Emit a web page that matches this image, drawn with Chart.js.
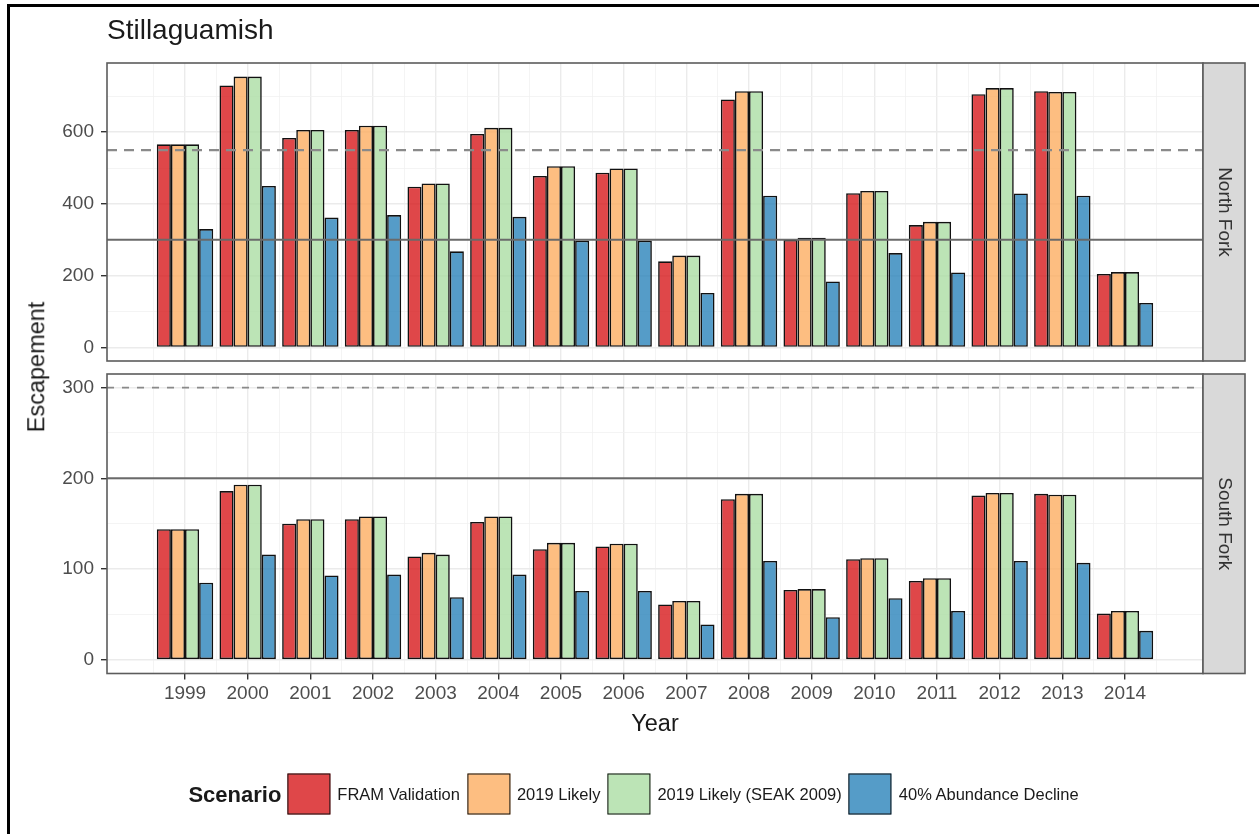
<!DOCTYPE html>
<html>
<head>
<meta charset="utf-8">
<title>Stillaguamish escapement</title>
<script src="https://cdn.jsdelivr.net/npm/chart.js@4.4.1/dist/chart.umd.min.js"></script>
<style>
  html, body { margin: 0; padding: 0; background: #fff; }
  #page { position: relative; width: 1259px; height: 834px; overflow: hidden; background: #fff;
          font-family: 'Liberation Sans', Arial, sans-serif; }
  #frame { position: absolute; left: 7px; top: 4px; right: -20px; bottom: -20px;
           border-left: 3px solid #000; border-top: 3px solid #000; }
  canvas { position: absolute; left: 0; top: 0; }
  .txt { position: absolute; white-space: nowrap; line-height: 1; color: #1a1a1a; }
  #title { left: 107px; top: 16px; font-size: 28px; }
  #ylab { left: 37px; top: 367px; font-size: 23.5px; transform: translate(-50%, -50%) rotate(-90deg); }
  #xlab { left: 655px; top: 724px; font-size: 23.5px; transform: translate(-50%, -50%); }
  #legend { position: absolute; left: 637px; top: 794px; transform: translate(-50%, -50%);
            display: flex; align-items: center; white-space: nowrap; }
  #legend .ttl { font-weight: bold; font-size: 22px; color: #1a1a1a; margin-right: 6px; }
  #legend .key { width: 43px; height: 41px; box-sizing: border-box; border: 1.6px solid #111; margin-right: 7px; }
  #legend .lab { font-size: 16.5px; color: #1a1a1a; margin-right: 7px; }
</style>
</head>
<body>
<div id="page">
  <div id="frame"></div>
  <canvas id="north" width="1259" height="834"></canvas>
  <canvas id="south" width="1259" height="834"></canvas>
  <div id="title" class="txt">Stillaguamish</div>
  <div id="ylab" class="txt">Escapement</div>
  <div id="xlab" class="txt">Year</div>
  <div id="legend"></div>
</div>
<script>
// Return years and scenarios
const years = [1999, 2000, 2001, 2002, 2003, 2004, 2005, 2006, 2007, 2008, 2009, 2010, 2011, 2012, 2013, 2014];
const scenarios = ['FRAM Validation', '2019 Likely', '2019 Likely (SEAK 2009)', '40% Abundance Decline'];

// North Fork escapement by scenario
const northFram    = [566, 730, 584, 606, 448, 595, 478, 487, 240, 691, 300, 430, 341, 706, 714, 205];
const northLikely  = [566, 755, 606, 618, 457, 612, 505, 499, 256, 714, 306, 436, 350, 723, 712, 210];
const northSeak    = [566, 755, 606, 618, 457, 612, 505, 499, 256, 714, 306, 436, 350, 723, 712, 210];
const northDecline = [330, 450, 362, 369, 268, 364, 298, 298, 152, 423, 184, 263, 209, 429, 423, 124];

// South Fork escapement by scenario
const southFram    = [144, 186, 150, 155, 114, 152, 122, 125, 61, 177, 77, 111, 87, 181, 183, 51];
const southLikely  = [144, 193, 155, 158, 118, 158, 129, 128, 65, 183, 78, 112, 90, 184, 182, 54];
const southSeak    = [144, 193, 155, 158, 116, 158, 129, 128, 65, 183, 78, 112, 90, 184, 182, 54];
const southDecline = [85, 116, 93, 94, 69, 94, 76, 76, 39, 109, 47, 68, 54, 109, 107, 32];

// Reference levels: [dashed, solid]
const northLevels = [550, 300];
const southLevels = [300, 200];

// Labelled y ticks
const northTicks = [0, 200, 400, 600];
const southTicks = [0, 100, 200, 300];

// Styling
const fills = ['rgba(215,25,28,0.8)', 'rgba(253,174,97,0.8)', 'rgba(171,221,164,0.8)', 'rgba(43,131,186,0.8)'];
const FONT = "'Liberation Sans', Arial, sans-serif";
Chart.defaults.font.family = FONT;

// x range: bars of width 0.9 plus 5% expansion
const xLo = years[0] - 0.45, xHi = years[years.length - 1] + 0.45;
const xPad = 0.05 * (xHi - xLo);
const xMin = xLo - xPad, xMax = xHi + xPad;

// Year ticks plus half-year minor grid ticks
function xTickList() {
  const t = [];
  years.forEach(y => { t.push({ value: y - 0.5, minor: true }); t.push({ value: y }); });
  t.push({ value: years[years.length - 1] + 0.5, minor: true });
  return t;
}

function yTickList(majors, lo, hi) {
  const step = majors[1] - majors[0];
  const t = [];
  for (let v = majors[0] - step / 2; v <= hi; v += step / 2) {
    if (v < lo) continue;
    t.push({ value: v, minor: !majors.includes(v) });
  }
  return t;
}

// Panel border and the facet strip on its right
const panelFrame = {
  id: 'panelFrame',
  afterDraw(chart, args, opts) {
    const { ctx, chartArea: a } = chart;
    const h = a.bottom - a.top;
    ctx.save();
    ctx.lineWidth = 1.6;
    ctx.strokeStyle = '#5c5c5c';
    ctx.strokeRect(a.left, a.top, a.right - a.left, h);
    ctx.fillStyle = '#D9D9D9';
    ctx.fillRect(a.right, a.top, 42, h);
    ctx.strokeRect(a.right, a.top, 42, h);
    ctx.translate(a.right + 21, a.top + h / 2);
    ctx.rotate(Math.PI / 2);
    ctx.fillStyle = '#333';
    ctx.font = '19px ' + FONT;
    ctx.textAlign = 'center';
    ctx.textBaseline = 'middle';
    ctx.fillText(opts.label, 0, 0);
    ctx.restore();
  }
};

function makePanel(id, series, levels, majors, label, pad, showX) {
  const all = series.flat().concat(levels);
  const dMax = Math.max(...all);
  const yMin = -0.05 * dMax, yMax = dMax * 1.05;
  const yTicks = yTickList(majors, yMin, yMax);

  // The bar ruler measures the half-year tick spacing, so a group
  // 0.9 years wide is 1.8 of that spacing.
  const bars = series.map((vals, i) => ({
    type: 'bar',
    label: scenarios[i],
    data: years.map((y, j) => ({ x: y, y: vals[j] })),
    backgroundColor: fills[i],
    borderColor: '#111',
    borderWidth: 1.6,
    borderSkipped: false,
    inflateAmount: 0,
    categoryPercentage: 1.8,
    barPercentage: 1.0,
    order: 1
  }));
  const lines = levels.map((v, i) => ({
    type: 'line',
    data: [{ x: xMin, y: v }, { x: xMax, y: v }],
    borderColor: i === 0 ? '#8a8a8a' : '#6a6a6a',
    borderWidth: i === 0 ? (showX ? 1.6 : 2.2) : 2,
    borderDash: i === 0 ? (showX ? [7, 8] : [10, 7]) : [],
    pointRadius: 0,
    fill: false,
    order: 0
  }));

  const minorOr = (ctx, a, b) => (ctx.tick && ctx.tick.minor) ? a : b;

  return new Chart(document.getElementById(id), {
    type: 'bar',
    data: { datasets: bars.concat(lines) },
    plugins: [panelFrame],
    options: {
      responsive: false,
      animation: false,
      layout: { padding: pad },
      plugins: { legend: { display: false }, tooltip: { enabled: false }, panelFrame: { label } },
      scales: {
        x: {
          type: 'linear', min: xMin, max: xMax, offset: false, bounds: 'data',
          afterBuildTicks: s => { s.ticks = xTickList(); },
          afterFit: s => { s.height = showX ? 40 : 0; },
          border: { display: false },
          grid: {
            offset: false,
            drawTicks: showX,
            tickLength: 6,
            color: ctx => minorOr(ctx, '#F1F1F1', '#EBEBEB'),
            lineWidth: ctx => minorOr(ctx, 0.8, 1.4),
            tickColor: ctx => minorOr(ctx, 'rgba(0,0,0,0)', '#333'),
            tickWidth: 1.4
          },
          ticks: {
            display: showX, autoSkip: false, maxRotation: 0, padding: 3,
            color: '#4D4D4D', font: { size: 19 },
            callback: v => Number.isInteger(v) ? String(v) : ''
          }
        },
        y: {
          type: 'linear', min: yMin, max: yMax, bounds: 'data',
          afterBuildTicks: s => { s.ticks = yTicks.map(t => ({ value: t.value, minor: t.minor })); },
          afterFit: s => { s.width = 107; },
          border: { display: false },
          grid: {
            drawTicks: true,
            tickLength: 6,
            color: ctx => minorOr(ctx, '#F1F1F1', '#EBEBEB'),
            lineWidth: ctx => minorOr(ctx, 0.8, 1.4),
            tickColor: ctx => minorOr(ctx, 'rgba(0,0,0,0)', '#333'),
            tickWidth: 1.4
          },
          ticks: {
            autoSkip: false, padding: 7, color: '#4D4D4D', font: { size: 19 },
            callback: v => majors.includes(v) ? String(v) : ''
          }
        }
      }
    }
  });
}

makePanel('north', [northFram, northLikely, northSeak, northDecline], northLevels, northTicks,
  'North Fork', { left: 0, right: 56, top: 63, bottom: 473 }, false);
makePanel('south', [southFram, southLikely, southSeak, southDecline], southLevels, southTicks,
  'South Fork', { left: 0, right: 56, top: 374, bottom: 120.5 }, true);

// Legend built from the scenario names and fills
const legend = document.getElementById('legend');
const ttl = document.createElement('span');
ttl.className = 'ttl'; ttl.textContent = 'Scenario';
legend.appendChild(ttl);
scenarios.forEach((name, i) => {
  const k = document.createElement('span');
  k.className = 'key'; k.style.background = fills[i];
  const l = document.createElement('span');
  l.className = 'lab'; l.textContent = name;
  legend.appendChild(k); legend.appendChild(l);
});
</script>
</body>
</html>
